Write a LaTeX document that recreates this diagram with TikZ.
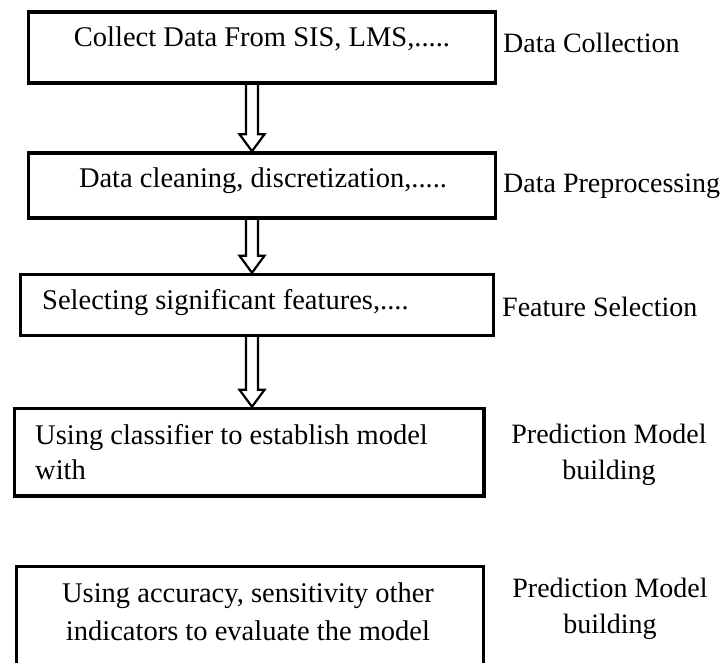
\documentclass[tikz,border=0pt]{standalone}
\usepackage{fontspec}
\setmainfont{Liberation Serif}
\usetikzlibrary{calc,backgrounds}
\tikzset{
  box/.style={draw=black, line width=3.5pt, rectangle, inner sep=0pt},
  boxtext/.style={inner sep=0pt, font=\fontsize{28.5}{36.5}\selectfont},
  labeltext/.style={inner sep=0pt, font=\fontsize{28}{36.5}\selectfont},
  blkarrow/.style={draw=black, line width=2.2pt, line join=miter, fill=white},
}
\newcommand{\hollowarrow}[2]{%
  \draw[blkarrow] ($(#1)+(-6,0)$) -- ($(#2)+(-6,17)$) -- ($(#2)+(-12.5,17)$) -- (#2)
    -- ($(#2)+(12.5,17)$) -- ($(#2)+(6,17)$) -- ($(#1)+(6,0)$);}
\begin{document}
\begin{tikzpicture}[x=1pt,y=1pt]
\useasboundingbox (0,0) rectangle (724,-663);
% boxes
\node[box, minimum width=467pt, minimum height=71pt] (b1) at (262,-47.5) {};
\node[box, minimum width=467pt, minimum height=65pt] (b2) at (262,-185.5) {};
\node[box, minimum width=473pt, minimum height=61pt] (b3) at (257,-305) {};
\node[box, minimum width=469.5pt, minimum height=87.5pt] (b4) at (249.25,-452.25) {};
\node[box, minimum width=467pt, minimum height=133.5pt] (b5) at (250,-633.25) {};
% box texts
\node[boxtext, anchor=base] (t1) at (262,-47) {Collect Data From SIS, LMS,.....};
\node[boxtext, anchor=base] (t2) at (263,-188) {Data cleaning, discretization,.....};
\node[boxtext, anchor=base west] (t3) at (42,-310) {Selecting significant features,....};
\node[boxtext, anchor=base west, font=\fontsize{28.5}{35}\selectfont] (t4) at (35,-445)
  {\begin{tabular}[t]{@{}l@{}}Using classifier to establish model\\with\end{tabular}};
\node[boxtext, anchor=base, font=\fontsize{28.5}{38}\selectfont] (t5) at (248,-602)
  {\begin{tabular}[t]{@{}c@{}}Using accuracy, sensitivity other\\indicators to evaluate the model\end{tabular}};
% side labels
\node[labeltext, anchor=base west] (l1) at (503,-53) {Data Collection};
\node[labeltext, anchor=base west] (l2) at (503,-193) {Data Preprocessing};
\node[labeltext, anchor=base west] (l3) at (502,-317) {Feature Selection};
\node[labeltext, anchor=base] (l4) at (609,-443)
  {\begin{tabular}[t]{@{}c@{}}Prediction Model\\building\end{tabular}};
\node[labeltext, anchor=base] (l5) at (610,-597)
  {\begin{tabular}[t]{@{}c@{}}Prediction Model\\building\end{tabular}};
% arrows
\coordinate (ax) at (252,0);
\begin{scope}[on background layer]
\hollowarrow{b1.south -| ax}{b2.north -| ax}
\hollowarrow{b2.south -| ax}{b3.north -| ax}
\hollowarrow{b3.south -| ax}{b4.north -| ax}
\end{scope}
\end{tikzpicture}
\end{document}
